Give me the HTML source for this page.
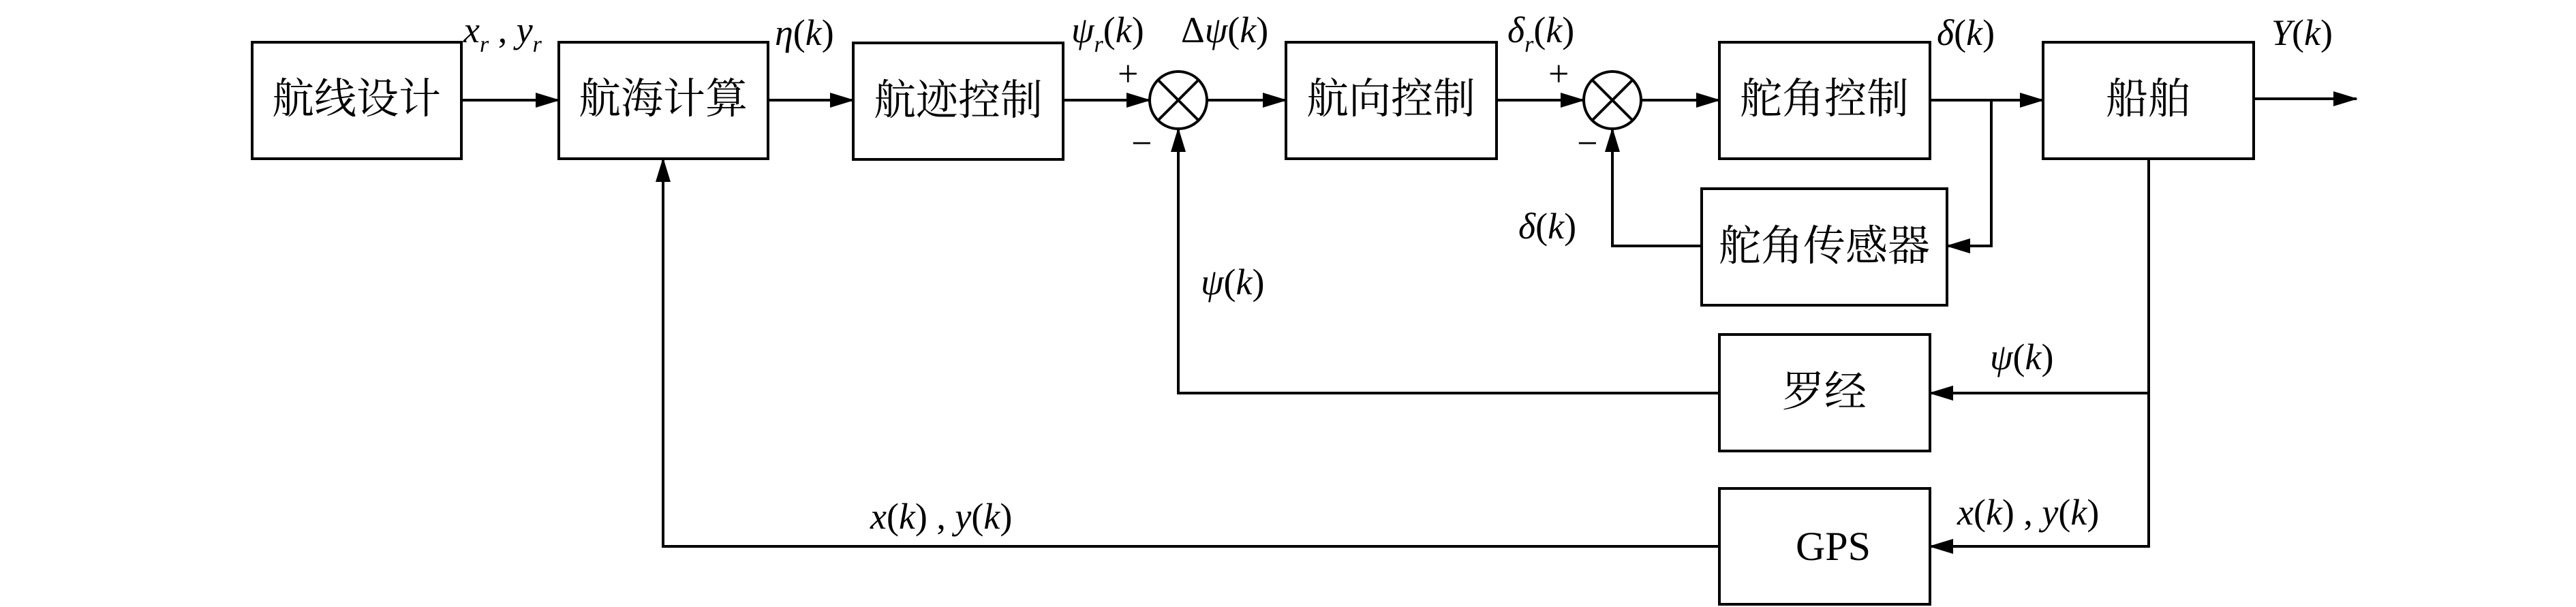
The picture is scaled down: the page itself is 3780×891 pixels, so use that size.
<!DOCTYPE html>
<html><head><meta charset="utf-8"><style>
html,body{margin:0;padding:0;background:#fff;}
svg{display:block;}
.cn{font-family:"Liberation Serif","Noto Serif CJK SC",serif;font-size:62px;}
.m{font-family:"Liberation Serif",serif;font-style:italic;font-size:54px;}
.r{font-family:"Liberation Serif",serif;font-size:54px;}
</style></head><body>
<svg width="3780" height="891" viewBox="0 0 3780 891" xmlns="http://www.w3.org/2000/svg">
<defs>
<marker id="a" markerWidth="36" markerHeight="22" refX="34" refY="11" orient="auto" markerUnits="userSpaceOnUse">
<path d="M0,0 L36,11 L0,22 Z" fill="#000"/></marker>
</defs>
<g fill="none" stroke="#000" stroke-width="4">
<rect x="370" y="62" width="307" height="171"/>
<rect x="820" y="62" width="307" height="171"/>
<rect x="1252" y="63" width="308" height="171"/>
<rect x="1887" y="62" width="309" height="171"/>
<rect x="2523" y="62" width="309" height="171"/>
<rect x="2998" y="62" width="309" height="171"/>
<rect x="2497" y="277" width="360" height="171"/>
<rect x="2523" y="491" width="309" height="171"/>
<rect x="2523" y="717" width="309" height="170"/>
<circle cx="1729" cy="147" r="42"/>
<circle cx="2366" cy="147" r="42"/>
<path d="M1699,117 L1759,177 M1759,117 L1699,177"/>
<path d="M2336,117 L2396,177 M2396,117 L2336,177"/>
</g>
<g stroke="#000" stroke-width="4" fill="none" marker-end="url(#a)">
<line x1="677" y1="147" x2="820" y2="147"/>
<line x1="1127" y1="147" x2="1252" y2="147"/>
<line x1="1560" y1="147" x2="1687" y2="147"/>
<line x1="1771" y1="147" x2="1887" y2="147"/>
<line x1="2196" y1="147" x2="2324" y2="147"/>
<line x1="2408" y1="147" x2="2523" y2="147"/>
<line x1="2832" y1="147" x2="2998" y2="147"/>
<line x1="3307" y1="145" x2="3458" y2="145"/>
<polyline points="2922,147 2922,361 2857,361"/>
<polyline points="2497,361 2366,361 2366,189"/>
<polyline points="3153,233 3153,577 2832,577"/>
<polyline points="3153,577 3153,802 2832,802"/>
<polyline points="2523,577 1729,577 1729,189"/>
<polyline points="2523,802 973,802 973,233"/>
</g>
<g text-anchor="middle" dominant-baseline="central">
<text class="cn" x="523" y="146">航线设计</text>
<text class="cn" x="973" y="146">航海计算</text>
<text class="cn" x="1406" y="148">航迹控制</text>
<text class="cn" x="2041" y="146">航向控制</text>
<text class="cn" x="2677" y="146">舵角控制</text>
<text class="cn" x="3152" y="146">船舶</text>
<text class="cn" x="2677" y="362">舵角传感器</text>
<text class="cn" x="2677" y="576">罗经</text>
<text class="r" x="2690" y="802" style="font-size:60px">GPS</text>
</g>
<g>
<text class="m" x="680" y="62">x<tspan font-size="34" dy="14">r</tspan><tspan dy="-14" font-style="normal"> , </tspan>y<tspan font-size="34" dy="14">r</tspan></text>
<text class="m" x="1137" y="66">η<tspan font-style="normal">(</tspan>k<tspan font-style="normal">)</tspan></text>
<text class="m" x="1572" y="62">ψ<tspan font-size="34" dy="14">r</tspan><tspan dy="-14" font-style="normal">(</tspan>k<tspan font-style="normal">)</tspan></text>
<text class="m" x="1733" y="62"><tspan font-style="normal">Δ</tspan>ψ<tspan font-style="normal">(</tspan>k<tspan font-style="normal">)</tspan></text>
<text class="m" x="2212" y="62">δ<tspan font-size="34" dy="14">r</tspan><tspan dy="-14" font-style="normal">(</tspan>k<tspan font-style="normal">)</tspan></text>
<text class="m" x="2842" y="66">δ<tspan font-style="normal">(</tspan>k<tspan font-style="normal">)</tspan></text>
<text class="m" x="3333" y="66">Y<tspan font-style="normal">(</tspan>k<tspan font-style="normal">)</tspan></text>
<text class="m" x="2228" y="350">δ<tspan font-style="normal">(</tspan>k<tspan font-style="normal">)</tspan></text>
<text class="m" x="1762" y="432">ψ<tspan font-style="normal">(</tspan>k<tspan font-style="normal">)</tspan></text>
<text class="m" x="2920" y="542">ψ<tspan font-style="normal">(</tspan>k<tspan font-style="normal">)</tspan></text>
<text class="m" x="2872" y="770">x<tspan font-style="normal">(</tspan>k<tspan font-style="normal">) , </tspan>y<tspan font-style="normal">(</tspan>k<tspan font-style="normal">)</tspan></text>
<text class="m" x="1277" y="776">x<tspan font-style="normal">(</tspan>k<tspan font-style="normal">) , </tspan>y<tspan font-style="normal">(</tspan>k<tspan font-style="normal">)</tspan></text>
<text class="r" x="1640" y="126">+</text>
<text class="r" x="1660" y="228">−</text>
<text class="r" x="2272" y="126">+</text>
<text class="r" x="2314" y="228">−</text>
</g>
</svg>
</body></html>
